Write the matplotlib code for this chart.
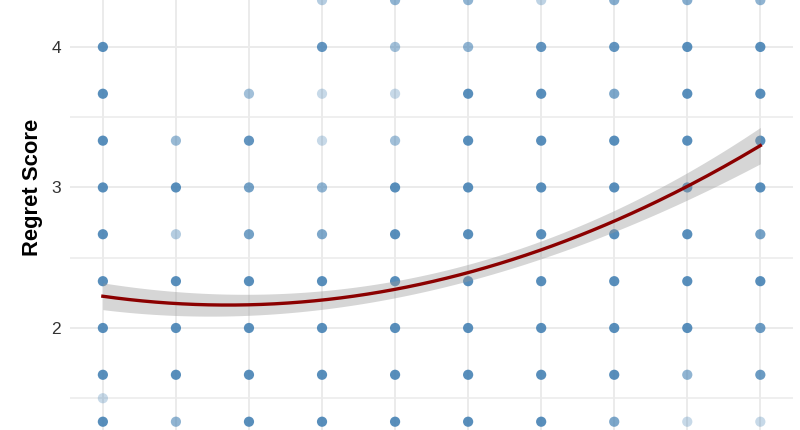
import numpy as np
import matplotlib.pyplot as plt

plt.rcParams['font.family'] = ['Liberation Sans', 'DejaVu Sans']

# columns on the x axis (responses 1..10)
x_cols = np.arange(1, 11)
# possible regret score levels, top to bottom
y_levels = [4.333, 4.0, 3.667, 3.333, 3.0, 2.667, 2.333, 2.0, 1.667, 1.5, 1.333]
# point opacity per level (rows) and column; 0 = no point
opacity = [
    [0, 0, 0, 0.4, 0.6, 0.6, 0.35, 0.65, 0.65, 0.6],
    [0.9, 0, 0, 0.85, 0.5, 0.6, 0.85, 0.85, 0.9, 0.9],
    [0.9, 0, 0.5, 0.3, 0.3, 0.9, 0.9, 0.7, 0.9, 0.9],
    [0.9, 0.55, 0.85, 0.3, 0.5, 0.9, 0.9, 0.9, 0.9, 0.9],
    [0.9, 0.9, 0.75, 0.6, 0.9, 0.9, 0.9, 0.9, 0.9, 0.9],
    [0.9, 0.4, 0.75, 0.7, 0.9, 0.9, 0.9, 0.9, 0.9, 0.75],
    [0.9, 0.9, 0.9, 0.9, 0.9, 0.9, 0.9, 0.9, 0.9, 0.9],
    [0.9, 0.9, 0.9, 0.9, 0.9, 0.9, 0.9, 0.9, 0.9, 0.8],
    [0.9, 0.9, 0.9, 0.9, 0.9, 0.9, 0.9, 0.9, 0.6, 0.8],
    [0.3, 0, 0, 0, 0, 0, 0, 0, 0, 0],
    [0.9, 0.6, 0.9, 0.9, 0.9, 0.9, 0.9, 0.7, 0.3, 0.3],
]
# fitted trend read at each column, and half-width of its confidence band
trend = [2.22, 2.185, 2.165, 2.19, 2.28, 2.39, 2.555, 2.77, 3.0, 3.30]
band = [0.10, 0.08, 0.07, 0.065, 0.065, 0.065, 0.065, 0.07, 0.09, 0.135]

fig = plt.figure(figsize=(8, 4.3), dpi=100)
ax = fig.add_axes([0.0875, 0.0, 0.904, 1.0])

xs, ys, cs = [], [], []
for i, yv in enumerate(y_levels):
    for j, xv in enumerate(x_cols):
        a = opacity[i][j]
        if a > 0:
            xs.append(xv)
            ys.append(yv)
            cs.append((70/255, 130/255, 180/255, a))
ax.scatter(xs, ys, s=54, c=cs, linewidths=0, zorder=2)

# smooth quadratic like geom_smooth
xf = np.linspace(1, 10, 200)
yf = np.polyval(np.polyfit(x_cols, trend, 2), xf)
bf = np.polyval(np.polyfit(x_cols, band, 3), xf)
ax.fill_between(xf, yf - bf, yf + bf, color='#999999', alpha=0.4, lw=0, zorder=3)
ax.plot(xf, yf, color='#8B0000', lw=2.4, zorder=4)

ax.set_xlim(0.55, 10.45)
ax.set_ylim(1.274, 4.334)
ax.set_xticks(x_cols)
ax.set_xticklabels([])
ax.set_yticks([2, 3, 4])
ax.set_yticks([1.5, 2.5, 3.5], minor=True)
ax.tick_params(axis='both', which='both', length=0)
ax.tick_params(axis='y', labelsize=12.5, labelcolor='#333333', pad=6.5)
ax.grid(True, which='major', color='#ebebeb', lw=1.4)
ax.grid(True, which='minor', axis='y', color='#ebebeb', lw=1.1)
ax.set_axisbelow(True)
for sp in ax.spines.values():
    sp.set_visible(False)

ax.set_ylabel('Regret Score', fontsize=15.8, fontweight='bold', color='black')
ax.yaxis.set_label_coords(-0.037, 0.564)

fig.savefig('out.png', dpi=100)
